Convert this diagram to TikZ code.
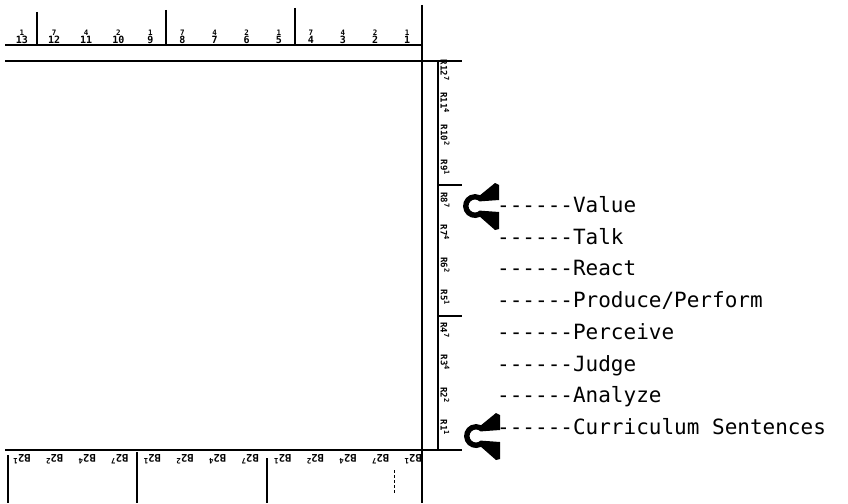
\documentclass[tikz,border=0pt]{standalone}
\usepackage{fontspec}
\setmonofont{DejaVu Sans Mono}
\begin{document}
\begin{tikzpicture}[x=1pt,y=-1pt,
  mainline/.style={line width=1.5pt},
  tickline/.style={line width=1.3pt},
  toplab/.style={font=\ttfamily\bfseries\fontsize{10}{8}\selectfont, inner sep=0pt, anchor=south, align=center},
  rlab/.style={font=\ttfamily\bfseries\fontsize{9}{9}\selectfont, inner sep=0.5pt, anchor=south, rotate=-90},
  botlab/.style={font=\ttfamily\bfseries\fontsize{10.5}{10.5}\selectfont, inner sep=0.5pt, anchor=south, rotate=180},
  lab/.style={font=\ttfamily\fontsize{21}{21}\selectfont, inner sep=0pt, anchor=base west},
  clamp/.pic={
    \fill (20,-23) -- (24,-21) -- (24,-6) -- (4.6,-4.6)
      arc[start angle=-45, end angle=-315, radius=6.5]
      -- (24,6) -- (24,23) -- (20,24) -- (5.1,10.9)
      arc[start angle=65, end angle=295, radius=12] -- cycle;
  }]
\useasboundingbox (0,0) rectangle (848,503);

% main frame lines
\draw[mainline] (5,45) -- (422,45);
\draw[mainline] (422,5) -- (422,503);
\draw[mainline] (5,61) -- (438,61) -- (438,450);
\draw[mainline] (5,450) -- (462,450);

% top ruler ticks
\draw[tickline] (37,12) -- (37,45);
\draw[tickline] (166,10) -- (166,45);
\draw[tickline] (295,8) -- (295,45);

% top ruler labels
\foreach \t/\b [count=\i from 0] in {1/13,7/12,4/11,2/10,1/9,7/8,4/7,2/6,1/5,7/4,4/3,2/2,1/1}
  \node[toplab] (t\i) at ({22+32.1*\i},44) {{\fontsize{7.5}{7}\selectfont\t}\\\b};

% right ruler
\draw[tickline] (438,61) -- (462,61);
\draw[tickline] (438,185) -- (462,185);
\draw[tickline] (438,316) -- (462,316);
\foreach \r/\n [count=\i from 0] in {12/7,11/4,10/2,9/1,8/7,7/4,6/2,5/1,4/7,3/4,2/2,1/1}
  \node[rlab] (r\r) at (440,{70+32.5*\i}) {R\r\raisebox{3.5pt}{\fontsize{7}{7}\selectfont\n}};

% bottom ruler
\draw[tickline] (8,455) -- (8,503);
\draw[tickline] (137,452) -- (137,503);
\draw[tickline] (267,458) -- (267,503);
\draw[line width=0.8pt, dash pattern=on 3pt off 2pt] (394,470) -- (394,494);
\foreach \n [count=\i from 0] in {1,2,4,7,1,2,4,7,1,2,4,7,1}
  \node[botlab] (b\i) at ({22+32.6*\i},454) {B2\raisebox{4pt}{\fontsize{7.5}{7.5}\selectfont\n}};

% clamps
\pic (c1) at (475,206) {clamp};
\pic (c2) at (476,436) {clamp};

% labels
\foreach \txt [count=\i from 0] in {Value,Talk,React,Produce/Perform,Perceive,Judge,Analyze,Curriculum Sentences}
  \node[lab] (l\i) at (497,{212.5+31.7*\i}) {------\txt};
\end{tikzpicture}
\end{document}
